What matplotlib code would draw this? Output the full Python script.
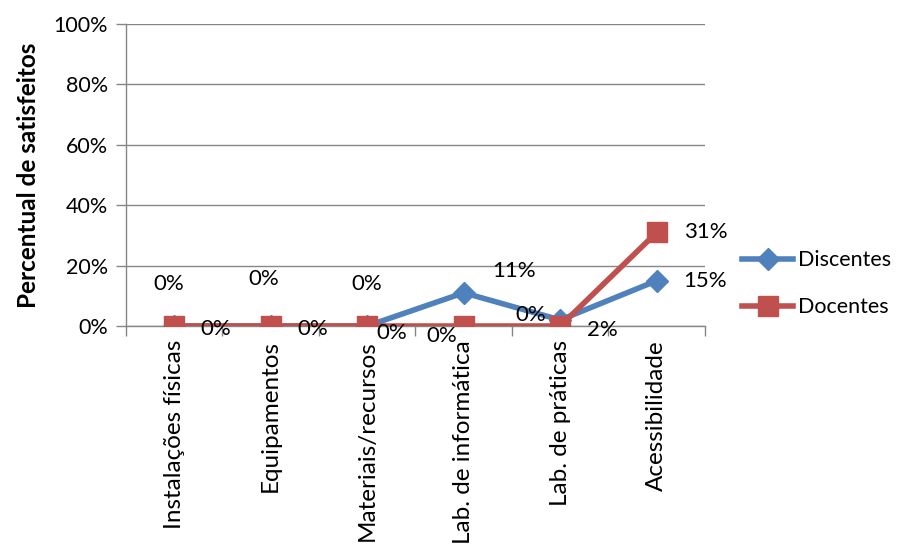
import matplotlib
matplotlib.use("Agg")
import matplotlib.pyplot as plt
from matplotlib.ticker import FixedLocator, PercentFormatter

plt.rcParams['font.family'] = ['Lato', 'DejaVu Sans']

categories = ["Instalações físicas", "Equipamentos", "Materiais/recursos",
              "Lab. de informática", "Lab. de práticas", "Acessibilidade"]
discentes = [0, 0, 0, 11, 2, 15]
docentes = [0, 0, 0, 0, 0, 31]

# label offsets in points (dx, dy) for each data label
disc_offsets = [(-4, 30), (-5, 34), (0, 30), (36, 16), (30, -7), (35, 0)]
doc_offsets = [(30, -2), (30, -2), (18, -5), (-16, -7), (-21, 8), (35, 0)]

blue = "#4F81BD"
red = "#C0504D"

fig = plt.figure(figsize=(9.04, 5.49), dpi=100)
ax = fig.add_axes([126 / 904, 1 - 326 / 549, 579 / 904, 302 / 549])

x = list(range(len(categories)))
ax.plot(x, discentes, color=blue, lw=4, marker="D", ms=11, mec=blue, mfc=blue,
        label="Discentes", zorder=3)
ax.plot(x, docentes, color=red, lw=4, marker="s", ms=14, mec=red, mfc=red,
        label="Docentes", zorder=4)

for xi, v, (dx, dy) in zip(x, discentes, disc_offsets):
    ax.annotate(f"{v}%", (xi, v), xytext=(dx, dy), textcoords="offset points",
                ha="center", va="center", fontsize=16, color="black", zorder=5)
for xi, v, (dx, dy) in zip(x, docentes, doc_offsets):
    ax.annotate(f"{v}%", (xi, v), xytext=(dx, dy), textcoords="offset points",
                ha="center", va="center", fontsize=16, color="black", zorder=5)

ax.set_xlim(-0.5, len(categories) - 0.5)
ax.set_ylim(0, 100)
ax.set_yticks([0, 20, 40, 60, 80, 100])
ax.yaxis.set_major_formatter(PercentFormatter(decimals=0))
ax.yaxis.grid(True, color="#868686", lw=1)
ax.set_axisbelow(True)

ax.xaxis.set_major_locator(FixedLocator([i - 0.5 for i in range(len(categories) + 1)]))
ax.xaxis.set_minor_locator(FixedLocator(x))
ax.set_xticklabels([])
ax.set_xticklabels(categories, minor=True, rotation=90, fontsize=17.5)
ax.tick_params(axis="x", which="major", length=7, color="#868686", width=1)
ax.tick_params(axis="x", which="minor", length=0, pad=10)
ax.tick_params(axis="y", length=7, color="#868686", width=1, labelsize=15.5, pad=6)

for side in ("top", "right"):
    ax.spines[side].set_visible(False)
for side in ("left", "bottom"):
    ax.spines[side].set_color("#868686")
    ax.spines[side].set_linewidth(1)

ax.set_ylabel("Percentual de satisfeitos", fontsize=17.5, fontweight="bold", labelpad=10)

ax.legend(loc="center left", bbox_to_anchor=(1.03, 0.14), frameon=False,
          fontsize=15.5, handlelength=2.4, labelspacing=1.25, handletextpad=0.2)

fig.savefig("out.png", dpi=100)
